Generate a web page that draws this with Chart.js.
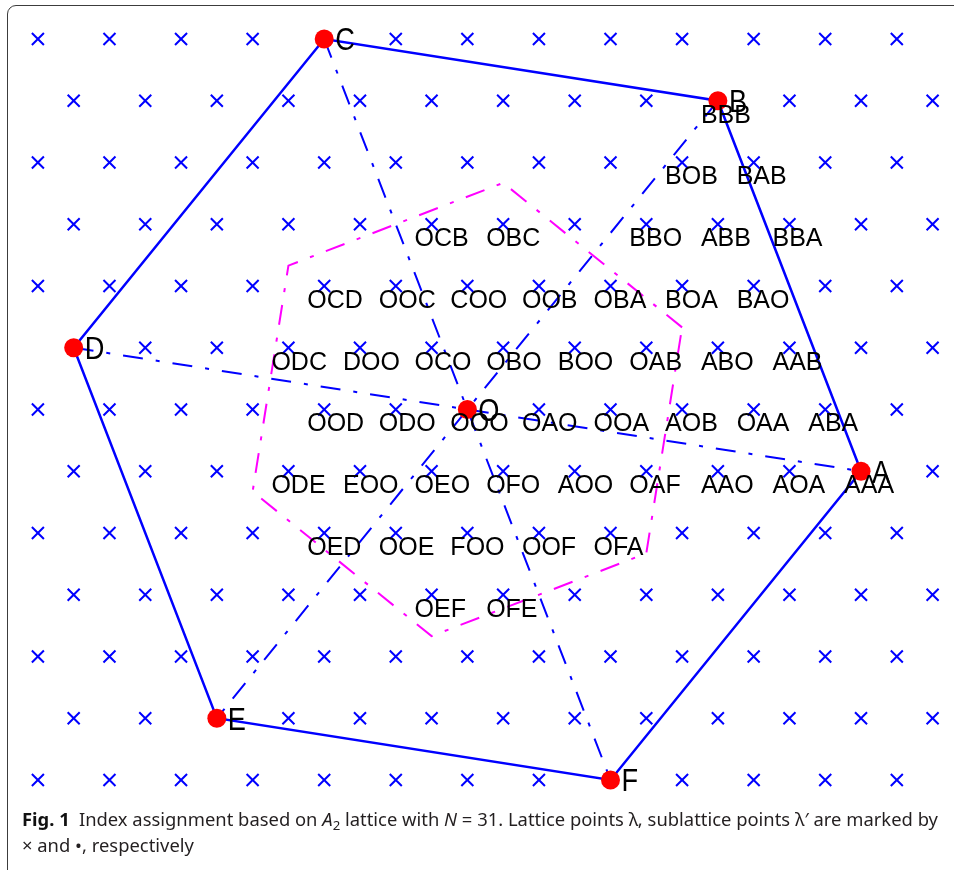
<!DOCTYPE html>
<html>
<head>
<meta charset="utf-8">
<title>Index assignment on the A2 lattice</title>
<script src="https://cdn.jsdelivr.net/npm/chart.js@4/dist/chart.umd.min.js"></script>
<style>
  html, body { margin: 0; padding: 0; background: #fff; }
  body { width: 954px; height: 870px; position: relative; overflow: hidden; }
  #frame {
    position: absolute; left: 7px; top: 5px; width: 990px; height: 900px;
    border: 1.5px solid #3c3c3c; border-top-left-radius: 9px; box-sizing: border-box;
  }
  #plot { position: absolute; left: 0; top: 0; }
  .cap {
    position: absolute; left: 22px; font-family: 'Noto Sans', sans-serif;
    font-size: 17.5px; line-height: 26px; color: #231f20; white-space: nowrap;
    transform-origin: 0 50%;
  }
  .cap b { color: #111; }
  .sub { font-size: 0.72em; vertical-align: -0.3em; }
</style>
</head>
<body>
<div id="frame"></div>
<canvas id="plot" width="954" height="870"></canvas>
<div class="cap" id="cap1" style="top:806px"><b>Fig. 1</b>&ensp;Index assignment based on <i>A</i><span class="sub">2</span> lattice with <i>N</i> = 31. Lattice points λ, sublattice points λ′ are marked by</div>
<div class="cap" id="cap2" style="top:832px">× and •, respectively</div>
<script>
// Lattice rows, listed top to bottom, and the column positions used on even / odd rows
const latticeRows = [6, 5, 4, 3, 2, 1, 0, -1, -2, -3, -4, -5, -6];
const evenRowU = [-6, -5, -4, -3, -2, -1, 0, 1, 2, 3, 4, 5, 6];
const oddRowU = [-5.5, -4.5, -3.5, -2.5, -1.5, -0.5, 0.5, 1.5, 2.5, 3.5, 4.5, 5.5, 6.5];

// Sublattice points
const subNames = ['A', 'B', 'C', 'D', 'E', 'F', 'O'];
const subU     = [5.5, 3.5, -2, -5.5, -3.5, 2, 0];
const subRow   = [-1, 5, 6, 1, -5, -6, 0];

// Outer hexagon and the three diagonals through O
const hexOrder = ['A', 'B', 'C', 'D', 'E', 'F', 'A'];
const diagFrom = ['D', 'C', 'B'];
const diagTo   = ['A', 'F', 'E'];

// Voronoi cell of O
const cellU   = [3, 0.5, -2.5, -3, -0.5, 2.5, 3];
const cellRow = [1.33, 3.67, 2.33, -1.33, -3.67, -2.33, 1.33];

// Index labels assigned to lattice points
const idxText = [
  'BBB',
  'BOB', 'BAB',
  'OCB', 'OBC', 'BBO', 'ABB', 'BBA',
  'OCD', 'OOC', 'COO', 'OOB', 'OBA', 'BOA', 'BAO',
  'ODC', 'DOO', 'OCO', 'OBO', 'BOO', 'OAB', 'ABO', 'AAB',
  'OOD', 'ODO', 'OOO', 'OAO', 'OOA', 'AOB', 'OAA', 'ABA',
  'ODE', 'EOO', 'OEO', 'OFO', 'AOO', 'OAF', 'AAO', 'AOA', 'AAA',
  'OED', 'OOE', 'FOO', 'OOF', 'OFA',
  'OEF', 'OFE'
];
const idxU = [
  3.5,
  3, 4,
  -0.5, 0.5, 2.5, 3.5, 4.5,
  -2, -1, 0, 1, 2, 3, 4,
  -2.5, -1.5, -0.5, 0.5, 1.5, 2.5, 3.5, 4.5,
  -2, -1, 0, 1, 2, 3, 4, 5,
  -2.5, -1.5, -0.5, 0.5, 1.5, 2.5, 3.5, 4.5, 5.5,
  -2, -1, 0, 1, 2,
  -0.5, 0.5
];
const idxRow = [
  5,
  4, 4,
  3, 3, 3, 3, 3,
  2, 2, 2, 2, 2, 2, 2,
  1, 1, 1, 1, 1, 1, 1, 1,
  0, 0, 0, 0, 0, 0, 0, 0,
  -1, -1, -1, -1, -1, -1, -1, -1, -1,
  -2, -2, -2, -2, -2,
  -3, -3
];

// ---- build datasets ----
const latticePts = latticeRows.flatMap(r =>
  (Math.abs(r) % 2 === 0 ? evenRowU : oddRowU).map(u => ({ x: u, y: r })));

const subPt = name => {
  const i = subNames.indexOf(name);
  return { x: subU[i], y: subRow[i] };
};
const subPts = subNames.map(subPt);
const hexPts = hexOrder.map(subPt);
const cellPts = cellU.map((u, i) => ({ x: u, y: cellRow[i] }));

const BLUE = '#0000ff', RED = '#ff0000', MAGENTA = '#ff00ff';
const DASH_DOT = [20, 13, 4, 13];

const lineSet = (data, color, width, dash, order) => ({
  data, showLine: true, borderColor: color, borderWidth: width, borderDash: dash,
  pointRadius: 0, pointHoverRadius: 0, fill: false, tension: 0, order, clip: false
});

const datasets = [
  {
    data: subPts, pointStyle: 'circle', pointRadius: 9.5, pointHoverRadius: 9.5,
    backgroundColor: RED, borderWidth: 0, showLine: false, order: 0, clip: false
  },
  lineSet(cellPts, MAGENTA, 2, DASH_DOT, 1),
  ...diagFrom.map((f, i) => lineSet([subPt(f), subPt(diagTo[i])], BLUE, 2, DASH_DOT, 2)),
  lineSet(hexPts, BLUE, 2.5, [], 3),
  {
    data: latticePts, pointStyle: 'crossRot', pointRadius: 8.5, pointHoverRadius: 8.5,
    borderColor: BLUE, borderWidth: 2, showLine: false, order: 4, clip: false
  }
];

// Text labels placed at data coordinates
const labelPlugin = {
  id: 'latticeLabels',
  afterDatasetsDraw(chart) {
    const { ctx, scales: { x, y } } = chart;
    ctx.save();
    ctx.fillStyle = '#000';
    ctx.textAlign = 'left';
    ctx.textBaseline = 'alphabetic';
    ctx.font = '25px "Liberation Sans", Arial, sans-serif';
    idxText.forEach((t, i) => {
      ctx.fillText(t, x.getPixelForValue(idxU[i]) - 17, y.getPixelForValue(idxRow[i]) + 22);
    });
    ctx.font = '32px "Liberation Sans", Arial, sans-serif';
    subNames.forEach((t, i) => {
      const px = x.getPixelForValue(subU[i]) + 11;
      const py = y.getPixelForValue(subRow[i]) + 11.5;
      ctx.save();
      ctx.translate(px, py);
      ctx.scale(0.85, 1);
      ctx.fillText(t, 0, 0);
      ctx.restore();
    });
    ctx.restore();
  }
};

new Chart(document.getElementById('plot'), {
  type: 'scatter',
  data: { datasets },
  options: {
    responsive: false,
    devicePixelRatio: 1,
    animation: false,
    events: [],
    layout: { autoPadding: false, padding: { left: 20, right: 3.5, top: 14.3, bottom: 74.6 } },
    plugins: { legend: { display: false }, tooltip: { enabled: false }, title: { display: false } },
    scales: {
      x: { type: 'linear', min: -6.25, max: 6.75, display: false },
      y: { type: 'linear', min: -6.25, max: 6.4, display: false }
    }
  },
  plugins: [labelPlugin]
});

// Caption lines are set in a condensed measure to fit the frame width
const cap1 = document.getElementById('cap1');
const cap2 = document.getElementById('cap2');
const sx = 916 / cap1.getBoundingClientRect().width;
cap1.style.transform = `scaleX(${sx})`;
cap2.style.transform = `scaleX(${sx})`;
</script>
</body>
</html>
